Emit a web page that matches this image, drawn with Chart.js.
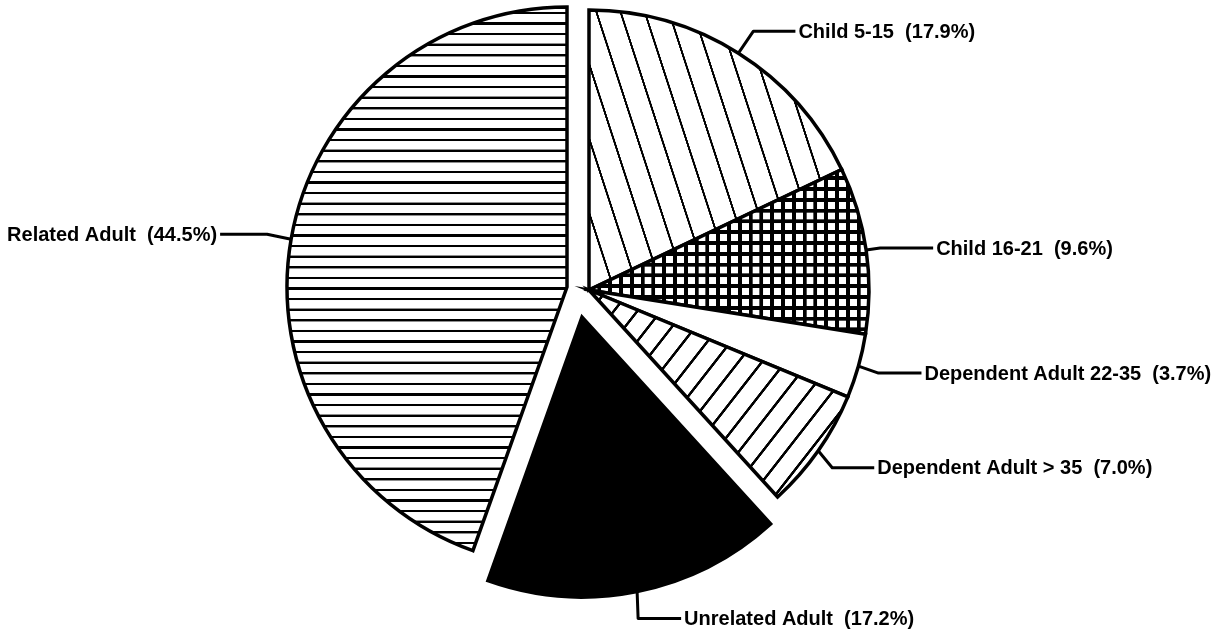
<!DOCTYPE html>
<html>
<head>
<meta charset="utf-8">
<script src="https://cdn.jsdelivr.net/npm/chart.js@4"></script>
<style>
  html, body { margin: 0; padding: 0; background: #ffffff; }
  #wrap { width: 1218px; height: 635px; }
</style>
</head>
<body>
<div id="wrap"><canvas id="pie"></canvas></div>
<script>
// Household composition shares (percent), clockwise from 12 o'clock
const categories = [
  'Child 5-15',
  'Child 16-21',
  'Dependent Adult 22-35',
  'Dependent Adult > 35',
  'Unrelated Adult',
  'Related Adult'
];
const shares = [17.9, 9.6, 3.7, 7.0, 17.2, 44.5];
const labelTexts = categories.map((c, i) => c + '  (' + shares[i].toFixed(1) + '%)');

const canvas = document.getElementById('pie');
const ctx2d = canvas.getContext('2d');

// Parallel-line hatch: a vertical stripe tile, scaled to the spacing and rotated
function hatch(spacing, lineWidth, angleDeg) {
  const W = 64, H = 16;
  const tile = document.createElement('canvas');
  tile.width = W; tile.height = H;
  const g = tile.getContext('2d');
  g.fillStyle = '#ffffff';
  g.fillRect(0, 0, W, H);
  g.fillStyle = '#000000';
  const lw = lineWidth * W / spacing;
  g.fillRect(W / 2 - lw / 2, 0, lw, H);
  const p = ctx2d.createPattern(tile, 'repeat');
  p.setTransform(new DOMMatrix().rotate(angleDeg).scale(spacing / W));
  return p;
}

// Square grid hatch
function grid(spacing, lineWidth) {
  const W = 64;
  const tile = document.createElement('canvas');
  tile.width = W; tile.height = W;
  const g = tile.getContext('2d');
  g.fillStyle = '#ffffff';
  g.fillRect(0, 0, W, W);
  g.fillStyle = '#000000';
  const lw = lineWidth * W / spacing;
  g.fillRect(W / 2 - lw / 2, 0, lw, W);
  g.fillRect(0, W / 2 - lw / 2, W, lw);
  const p = ctx2d.createPattern(tile, 'repeat');
  p.setTransform(new DOMMatrix().scale(spacing / W));
  return p;
}

const fills = [
  hatch(23, 2.1, -18),   // Child 5-15: steep back-slash lines
  grid(10.8, 3.9),       // Child 16-21: cross-hatch
  '#ffffff',             // Dependent Adult 22-35: blank
  hatch(18.5, 2.6, 38),  // Dependent Adult > 35: forward-slash lines
  '#000000',             // Unrelated Adult: solid
  hatch(10.6, 2.4, 90)   // Related Adult: horizontal lines
];

// Pulled-out slices: shift in pixels for each slice
const explode = [[0, 0], [0, 0], [0, 0], [0, 0], [-7, 27], [-22, -3]];

// Callout lines: bend point relative to the slice's rim point, then a horizontal run
const callouts = [
  { bend: [15, -22], run: 42 },
  { bend: [14, -2],  run: 53 },
  { bend: [20, 7],   run: 43 },
  { bend: [14, 17],  run: 42 },
  { bend: [1, 27],   run: 43 },
  { bend: [-24, -5], run: -47 }
];

const explodePlugin = {
  id: 'explodeSlices',
  beforeDatasetDraw(chart, args) {
    const ctx = chart.ctx;
    args.meta.data.forEach((arc, i) => {
      const [dx, dy] = explode[i];
      ctx.save();
      ctx.translate(dx, dy);
      arc.draw(ctx);
      ctx.restore();
    });
    return false;
  }
};

const calloutPlugin = {
  id: 'callouts',
  afterDatasetsDraw(chart) {
    const ctx = chart.ctx;
    const arcs = chart.getDatasetMeta(0).data;
    ctx.save();
    ctx.strokeStyle = '#000000';
    ctx.fillStyle = '#000000';
    ctx.lineWidth = 3;
    ctx.lineJoin = 'round';
    ctx.font = 'bold 20px "Liberation Sans", Arial, sans-serif';
    ctx.textBaseline = 'middle';
    arcs.forEach((arc, i) => {
      const mid = (arc.startAngle + arc.endAngle) / 2;
      const [dx, dy] = explode[i];
      const ax = arc.x + dx + Math.cos(mid) * arc.outerRadius;
      const ay = arc.y + dy + Math.sin(mid) * arc.outerRadius;
      const bx = ax + callouts[i].bend[0];
      const by = ay + callouts[i].bend[1];
      const ex = bx + callouts[i].run;
      ctx.beginPath();
      ctx.moveTo(ax, ay);
      ctx.lineTo(bx, by);
      ctx.lineTo(ex, by);
      ctx.stroke();
      const right = callouts[i].run > 0;
      ctx.textAlign = right ? 'left' : 'right';
      ctx.fillText(labelTexts[i], ex + (right ? 3 : -3), by + 1);
    });
    ctx.restore();
  }
};

new Chart(canvas, {
  type: 'pie',
  data: {
    labels: categories,
    datasets: [{
      data: shares,
      backgroundColor: fills,
      borderColor: '#000000',
      borderWidth: 3.5,
      borderJoinStyle: 'miter'
    }]
  },
  options: {
    responsive: true,
    maintainAspectRatio: false,
    animation: false,
    events: [],
    radius: 280,
    layout: { padding: { left: 0, top: 0, right: 40, bottom: 55 } },
    plugins: {
      legend: { display: false },
      tooltip: { enabled: false }
    }
  },
  plugins: [explodePlugin, calloutPlugin]
});
</script>
</body>
</html>
